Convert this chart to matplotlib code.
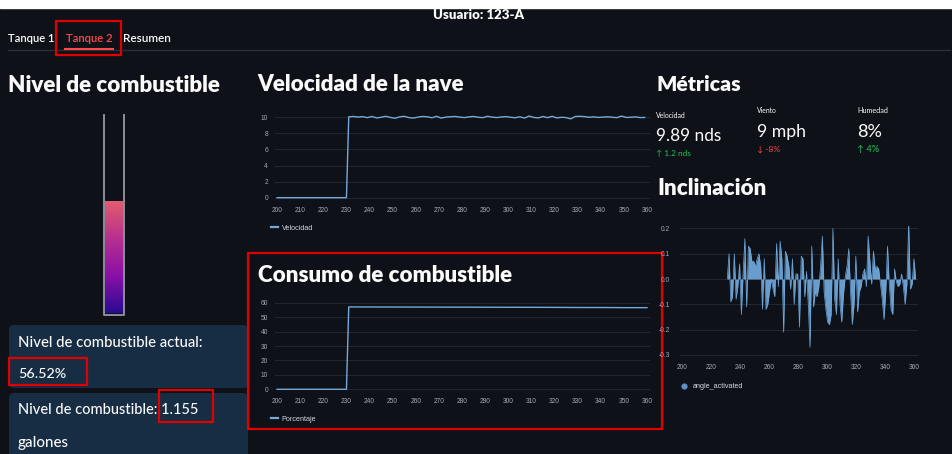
import numpy as np
import matplotlib
matplotlib.use('Agg')
import matplotlib.pyplot as plt
from matplotlib.colors import LinearSegmentedColormap
from matplotlib.patches import Rectangle, FancyBboxPatch

# ---------------- data ----------------
usuario = 'Usuario: 123-A'
tabs = ['Tanque 1', 'Tanque 2', 'Resumen']
nivel_pct = 56.52
nivel_gal = 1.155

ticks_x = list(range(200, 361, 10))

vel_vals = [10.05, 10.10, 10.02, 10.08, 9.95, 10.10, 9.92, 10.00, 10.12, 9.98,
            9.88, 10.05, 10.12, 9.96, 9.90, 10.02, 10.10, 10.06, 9.94, 10.12,
            9.90, 10.02, 10.06, 10.10, 10.02, 9.96, 10.05, 10.10, 10.00, 9.95,
            10.12, 10.02, 9.96, 10.04, 10.08, 10.00, 9.94, 10.06, 9.90, 10.15,
            9.98, 9.92, 10.10, 9.95, 10.12, 9.92, 10.00, 9.96, 9.80, 10.10,
            10.12, 10.08, 10.00, 10.05, 9.98, 10.02, 10.06, 10.00, 9.95, 10.15,
            9.98, 10.00, 10.05, 9.96, 9.98]
vel_t = [200, 230] + list(range(231, 231 + 2 * len(vel_vals), 2))
vel_y = [0, 0] + vel_vals

cons_t = [200, 230, 231, 260, 290, 320, 330, 340, 350, 360]
cons_y = [0, 0, 57.1, 57.0, 56.9, 56.8, 56.7, 56.7, 56.6, 56.6]

incl_vals = [0.00, 0.10, -0.09, -0.07, 0.10, -0.08, -0.03, 0.06, -0.14, 0.02,
             0.16, -0.11, 0.13, 0.12, 0.07, 0.07, 0.05, 0.08, 0.10, 0.05,
             -0.12, 0.08, -0.12, -0.10, -0.05, 0.00, -0.04, -0.07, 0.14, -0.03,
             0.15, 0.08, -0.21, 0.11, 0.09, 0.05, -0.04, 0.08, -0.10, 0.02,
             0.02, -0.19, 0.09, 0.08, -0.07, 0.03, -0.10, -0.27, 0.13, -0.11,
             -0.05, -0.07, -0.03, 0.05, 0.17, -0.05, -0.12, -0.17, -0.18, -0.14,
             0.20, -0.08, -0.14, 0.08, -0.10, -0.17, -0.06, 0.01, 0.05, 0.12,
             -0.05, -0.18, -0.10, 0.09, -0.13, -0.05, -0.03, 0.02, 0.04, -0.03,
             0.17, 0.07, -0.02, 0.11, 0.04, 0.05, 0.04, -0.02, -0.08, -0.16,
             -0.05, 0.13, -0.02, -0.12, -0.14, 0.04, -0.01, -0.03, -0.02, 0.02,
             -0.03, -0.10, -0.02, 0.22, -0.04, -0.02, 0.08, 0.00]
incl_t = np.linspace(231, 361, len(incl_vals))

metric_names = ['Velocidad', 'Viento', 'Humedad']
metric_values = ['9.89 nds', '9 mph', '8%']
metric_deltas = ['↑ 1.2 nds', '↓ -8%', '↑ 4%']

# ---------------- figure ----------------
W, H = 953, 454
BG = '#0e1117'
FG = '#fafafa'
LINE = '#76a9d8'
RED = '#ff4b4b'
GREEN = '#21c354'
UI = ['Lato', 'DejaVu Sans']
CH = ['Liberation Sans', 'DejaVu Sans']

fig = plt.figure(figsize=(W / 100, H / 100), dpi=100, facecolor=BG)
bg = fig.add_axes([0, 0, 1, 1])
bg.axis('off')
renderer = fig.canvas.get_renderer()


def label(x, y, s, width, weight='normal', color=FG, size=10):
    t = bg.text(x, y, s, fontsize=size, fontweight=weight, color=color,
                family=UI, va='baseline', ha='left')
    w = t.get_window_extent(renderer).width
    t.set_fontsize(size * width / w)
    return t


def px_axes(x0, y0, x1, y1):
    return fig.add_axes([x0 / W, 1 - y1 / H, (x1 - x0) / W, (y1 - y0) / H])


def style(ax, yticks, ylim, xlim, yfmt):
    ax.set_facecolor('none')
    for s in ax.spines.values():
        s.set_visible(False)
    ax.set_xlim(*xlim)
    ax.set_ylim(*ylim)
    ax.set_yticks(yticks)
    ax.set_yticklabels([yfmt.format(v) for v in yticks])
    ax.grid(axis='y', color='#232732', lw=0.7)
    ax.set_axisbelow(True)
    ax.tick_params(length=0, labelsize=4.8, labelcolor='#a3a8b8', pad=5)
    for lb in ax.get_xticklabels() + ax.get_yticklabels():
        lb.set_family(CH)


def legend(ax, x, y, textpad=0.6, **kw):
    leg = ax.legend(loc='center left', bbox_to_anchor=(x / W, 1 - y / H),
                    bbox_transform=fig.transFigure, frameon=False,
                    borderaxespad=0, borderpad=0, handletextpad=textpad,
                    prop={'family': CH, 'size': 5.2}, labelcolor='#d5d8de', **kw)
    for ln in leg.get_lines():
        ln.set_linewidth(1.6)
    return leg


# top strip + header
bg.add_patch(Rectangle((0, 0), W, 8, color='white', zorder=1))
label(433, 19, usuario, 91, weight='heavy')
tab_x = [8, 66, 123]
tab_w = [47, 47, 48]
for i, name in enumerate(tabs):
    label(tab_x[i], 42, name, tab_w[i], weight='semibold',
          color=RED if i == 1 else FG)
bg.plot([8, 950], [49.5, 49.5], color='#2b2e38', lw=1)
bg.plot([65, 113], [48.5, 48.5], color=RED, lw=1.5)

# titles
label(8, 92, 'Nivel de combustible', 213, weight='heavy')
label(257, 91, 'Velocidad de la nave', 208, weight='heavy')
label(258, 282, 'Consumo de combustible', 256, weight='heavy')
label(657, 91, 'Métricas', 85, weight='heavy')
label(657, 195, 'Inclinación', 110, weight='heavy')

# fuel tube
tube_top, tube_bot = 115, 313
fill_top = tube_bot - nivel_pct / 100 * (tube_bot - tube_top)
cmap = LinearSegmentedColormap.from_list('fuel', ['#e25c6e', '#b8308f', '#8a10a8', '#2a0a92'])
grad = np.linspace(0, 1, 256).reshape(-1, 1)
bg.imshow(grad, cmap=cmap, extent=(105.5, 123, tube_bot, fill_top),
          aspect='auto', origin='upper', interpolation='bilinear', zorder=2)
bg.plot([104.5, 104.5, 123.8, 123.8], [tube_top, 315, 315, tube_top],
        color='#8c8f9a', lw=1.4, zorder=3)

# info boxes
for (yy, hh) in [(325, 63), (393, 75)]:
    bg.add_patch(FancyBboxPatch((9, yy), 239, hh,
                                boxstyle='round,pad=0,rounding_size=5',
                                fc='#172d43', ec='none', zorder=1))
label(18, 347, 'Nivel de combustible actual:', 185, weight='medium')
label(18, 378, f'{nivel_pct:.2f}%', 48, weight='medium')
label(18, 414, f'Nivel de combustible: {nivel_gal}', 180, weight='medium')
label(18, 447, 'galones', 51, weight='medium')

# metrics
mx = [656, 757, 857]
label(mx[0], 118, metric_names[0], 30)
label(mx[1], 113, metric_names[1], 20)
label(mx[2], 113, metric_names[2], 31)
label(mx[0], 141, metric_values[0], 65)
label(mx[1], 137, metric_values[1], 49)
label(mx[2], 137, metric_values[2], 25)
label(mx[0], 156, metric_deltas[0], 35, color=GREEN)
label(mx[1], 152, metric_deltas[1], 23, color=RED)
label(mx[2], 152, metric_deltas[2], 22, color=GREEN)

# red annotation boxes
for (x0, y0, x1, y1) in [(56, 21, 121, 55), (9, 358, 87, 385),
                         (159, 390, 213, 422), (248, 253, 662, 429)]:
    bg.add_patch(Rectangle((x0, y0), x1 - x0, y1 - y0, fill=False,
                           ec='#e00000', lw=1.6, zorder=5))

bg.set_xlim(0, W)
bg.set_ylim(H, 0)

# velocity chart
ax1 = px_axes(275, 113, 650, 200)
ax1.plot(vel_t, vel_y, color=LINE, lw=1.0, label='Velocidad')
style(ax1, [0, 2, 4, 6, 8, 10], (-0.29, 10.53), (199.1, 361.3), '{:d}')
ax1.set_xticks(ticks_x)
for lb in ax1.get_xticklabels():
    lb.set_family(CH)
legend(ax1, 271, 228, handlelength=0.9)

# consumption chart
ax2 = px_axes(275, 299, 650, 391)
ax2.plot(cons_t, cons_y, color=LINE, lw=1.0, label='Porcentaje')
style(ax2, [0, 10, 20, 30, 40, 50, 60], (-1.18, 62.6), (199.1, 361.3), '{:d}')
ax2.set_xticks(ticks_x)
for lb in ax2.get_xticklabels():
    lb.set_family(CH)
legend(ax2, 271, 419, handlelength=0.9)

# inclination chart
ax3 = px_axes(680, 226, 918, 357)
ax3.fill_between(incl_t, incl_vals, 0, color='#6fa6d8', lw=0, alpha=0.95)
ax3.plot(incl_t, incl_vals, color='#6fa6d8', lw=0.5)
style(ax3, [-0.3, -0.2, -0.1, 0.0, 0.1, 0.2], (-0.308, 0.2095), (198.4, 362.6), '{:.1f}')
ax3.set_xticks(list(range(200, 361, 20)))
for lb in ax3.get_xticklabels():
    lb.set_family(CH)
ax3.tick_params(axis='y', pad=7)
h = ax3.scatter([], [], s=12, color='#5b8fc7', label='angle_activated')
legend(ax3, 677, 386, textpad=0.2, handles=[h], scatterpoints=1)

fig.savefig('out.png', dpi=100, facecolor=BG)
